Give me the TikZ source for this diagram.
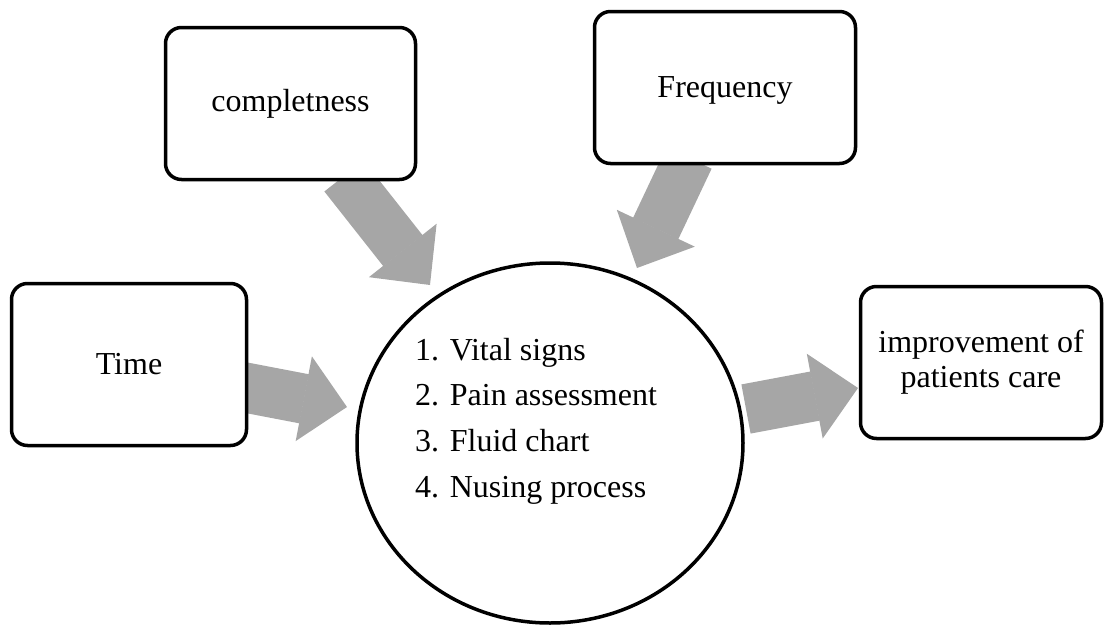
\documentclass[tikz,border=0pt]{standalone}
\usepackage{fontspec}
\setmainfont{Liberation Serif}
\usetikzlibrary{shapes.geometric, arrows.meta, positioning}
\definecolor{arrowgray}{RGB}{166,166,166}

\begin{document}
\begin{tikzpicture}[x=1pt,y=-1pt]
        \useasboundingbox (0,0) rectangle (1104,627);
        % ends of the fat arrows
        \coordinate (compout) at (344,176);
        \coordinate (compin) at (430,285);
        \coordinate (freqout) at (689,158);
        \coordinate (freqin) at (637,268);
        \coordinate (timeout) at (240,386.5);
        \coordinate (timein) at (347,407);
        \coordinate (circout) at (746,409);
        \coordinate (imprin) at (858,388);
        \begin{scope}[every edge/.style={draw=arrowgray,line width=50pt,-{Triangle[length=44pt,width=86pt,line width=1.5pt]}}]
          \path (compout) edge (compin);
          \path (freqout) edge (freqin);
          \path (timeout) edge (timein);
          \path (circout) edge (imprin);
        \end{scope}
        \begin{scope}[every node/.style={draw,fill=white,line width=3.5pt,rounded corners=16pt,inner sep=0pt,align=center,font=\fontsize{32}{35}\selectfont}]
          \node[minimum width=250pt,minimum height=152pt] (comp) at (290.5,103.5) {completness};
          \node[minimum width=261pt,minimum height=152pt,text depth=0pt] (freq) at (725,87.5) {Frequency};
          \node[minimum width=235pt,minimum height=162pt] (time) at (129,364.5) {Time};
          \node[minimum width=241pt,minimum height=152pt] (impr) at (981,362.5) {improvement of\\patients care};
        \end{scope}
        \node[draw,fill=white,line width=3.5pt,ellipse,inner sep=0pt,minimum width=386pt,minimum height=360pt] (circ) at (550,443) {};
        \node[anchor=west,inner sep=0pt,align=left,font=\fontsize{32}{45.7}\selectfont] (items) at (415,421) {1. Vital signs\\2. Pain assessment\\3. Fluid chart\\4. Nusing process};
      \end{tikzpicture}
\end{document}
